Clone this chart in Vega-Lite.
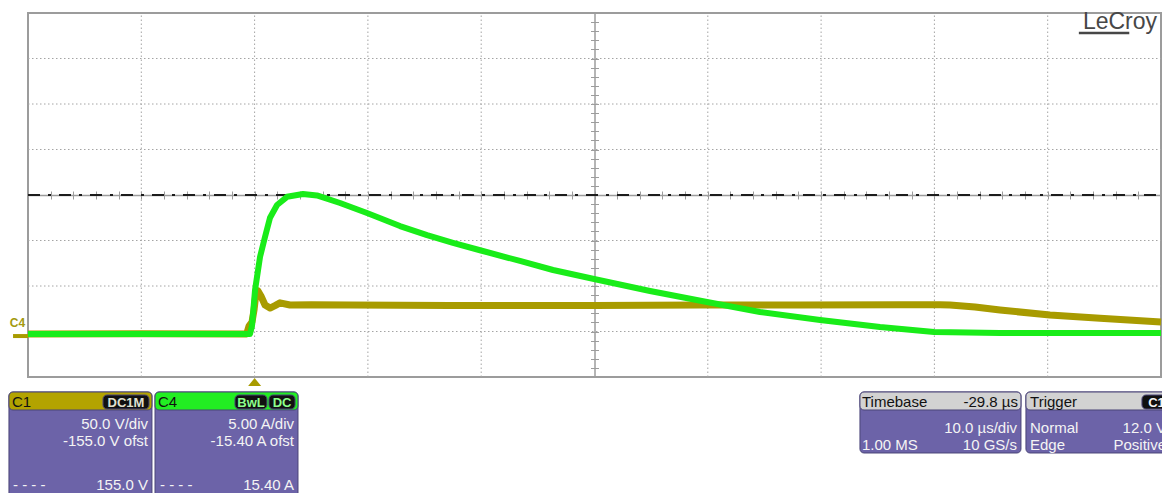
{
  "$schema": "https://vega.github.io/schema/vega-lite/v6.json",
  "width": 1133,
  "height": 364,
  "autosize": {"type": "none"},
  "padding": {"left": 28, "top": 13, "right": 1, "bottom": 116},
  "background": "white",
  "config": {
    "view": {"stroke": "#9c9c9c", "strokeWidth": 2},
    "font": "Liberation Sans",
    "text": {"font": "Liberation Sans"}
  },
  "datasets": {
    "c1": [
      {"t": -20, "v": 2.3}, {"t": -10, "v": 2.6}, {"t": -0.7, "v": 2.3}, {"t": -0.49, "v": 11},
      {"t": -0.23, "v": 15.4}, {"t": -0.05, "v": 28.6}, {"t": 0.12, "v": 47.3}, {"t": 0.3, "v": 49.5},
      {"t": 0.56, "v": 44}, {"t": 0.92, "v": 34.1}, {"t": 1.36, "v": 30.8}, {"t": 1.8, "v": 33.5},
      {"t": 2.24, "v": 36.5}, {"t": 3.12, "v": 34.1}, {"t": 5, "v": 34.5}, {"t": 8.42, "v": 34},
      {"t": 17.25, "v": 33.5}, {"t": 29.96, "v": 33.5}, {"t": 39.31, "v": 34}, {"t": 48.14, "v": 34.2},
      {"t": 56.97, "v": 34.5}, {"t": 60.5, "v": 34.3}, {"t": 61.38, "v": 34.1}, {"t": 63.59, "v": 31.9},
      {"t": 65.79, "v": 28.6}, {"t": 70.2, "v": 23.1}, {"t": 74.62, "v": 19.5}, {"t": 80, "v": 15.4}
    ],
    "c4": [
      {"t": -20, "i": 0.13}, {"t": -0.41, "i": 0.13}, {"t": -0.23, "i": 1.0}, {"t": 0.04, "i": 4.96},
      {"t": 0.48, "i": 8.6}, {"t": 0.92, "i": 10.8}, {"t": 1.36, "i": 12.9}, {"t": 1.98, "i": 14.3},
      {"t": 2.86, "i": 15.2}, {"t": 4.27, "i": 15.51}, {"t": 5.5, "i": 15.35}, {"t": 7.54, "i": 14.52},
      {"t": 9.92, "i": 13.42}, {"t": 12.83, "i": 11.99}, {"t": 15.22, "i": 11.0}, {"t": 17.51, "i": 10.15},
      {"t": 19.98, "i": 9.3}, {"t": 23.42, "i": 8.15}, {"t": 26.34, "i": 7.16}, {"t": 29.96, "i": 6.17},
      {"t": 34.9, "i": 4.85}, {"t": 39.93, "i": 3.64}, {"t": 44.61, "i": 2.54}, {"t": 49.91, "i": 1.66},
      {"t": 55.2, "i": 0.89}, {"t": 59.97, "i": 0.35}, {"t": 65.79, "i": 0.24}, {"t": 80, "i": 0.24}
    ],
    "gridT": [{"t": -10}, {"t": 0}, {"t": 10}, {"t": 20}, {"t": 40}, {"t": 50}, {"t": 60}, {"t": 70}],
    "gridD": [{"d": -3}, {"d": -2}, {"d": -1}, {"d": 1}, {"d": 2}, {"d": 3}],
    "panels": [
      {"kind": "body", "x1": -0.168, "x2": 1.094, "y1": -4.33, "y2": -6.75},
      {"kind": "c1", "x1": -0.168, "x2": 1.094, "y1": -4.33, "y2": -4.725},
      {"kind": "badge", "x1": 0.662, "x2": 1.068, "y1": -4.396, "y2": -4.703},
      {"kind": "body", "x1": 1.121, "x2": 2.383, "y1": -4.33, "y2": -6.75},
      {"kind": "c4", "x1": 1.121, "x2": 2.383, "y1": -4.33, "y2": -4.725},
      {"kind": "badge", "x1": 1.827, "x2": 2.109, "y1": -4.396, "y2": -4.703},
      {"kind": "badge", "x1": 2.127, "x2": 2.357, "y1": -4.396, "y2": -4.703},
      {"kind": "body", "x1": 7.343, "x2": 8.764, "y1": -4.33, "y2": -5.67},
      {"kind": "info", "x1": 7.343, "x2": 8.764, "y1": -4.33, "y2": -4.725},
      {"kind": "body", "x1": 8.808, "x2": 10.2, "y1": -4.33, "y2": -5.67},
      {"kind": "info", "x1": 8.808, "x2": 10.2, "y1": -4.33, "y2": -4.725},
      {"kind": "badge", "x1": 9.832, "x2": 10.1, "y1": -4.396, "y2": -4.703}
    ],
    "texts": [
      {"label": "C1", "x": -0.141, "y": -4.67, "pos": "l", "tone": "dark"},
      {"label": "C4", "x": 1.147, "y": -4.67, "pos": "l", "tone": "dark"},
      {"label": "Timebase", "x": 7.361, "y": -4.67, "pos": "l", "tone": "dark"},
      {"label": "-29.8 µs", "x": 8.738, "y": -4.67, "pos": "r", "tone": "dark"},
      {"label": "Trigger", "x": 8.844, "y": -4.67, "pos": "l", "tone": "dark"},
      {"label": "DC1M", "x": 0.865, "y": -4.65, "pos": "c", "tone": "b1"},
      {"label": "BwL", "x": 1.968, "y": -4.65, "pos": "c", "tone": "b4"},
      {"label": "DC", "x": 2.242, "y": -4.65, "pos": "c", "tone": "b4"},
      {"label": "C1", "x": 9.96, "y": -4.65, "pos": "c", "tone": "light"},
      {"label": "50.0 V/div", "x": 1.059, "y": -5.143, "pos": "r", "tone": "light"},
      {"label": "-155.0 V ofst", "x": 1.059, "y": -5.516, "pos": "r", "tone": "light"},
      {"label": "155.0 V", "x": 1.059, "y": -6.484, "pos": "r", "tone": "light"},
      {"label": "- - - -", "x": -0.132, "y": -6.484, "pos": "l", "tone": "light"},
      {"label": "5.00 A/div", "x": 2.348, "y": -5.143, "pos": "r", "tone": "light"},
      {"label": "-15.40 A ofst", "x": 2.348, "y": -5.516, "pos": "r", "tone": "light"},
      {"label": "15.40 A", "x": 2.348, "y": -6.484, "pos": "r", "tone": "light"},
      {"label": "- - - -", "x": 1.165, "y": -6.484, "pos": "l", "tone": "light"},
      {"label": "10.0 µs/div", "x": 8.729, "y": -5.231, "pos": "r", "tone": "light"},
      {"label": "1.00 MS", "x": 7.361, "y": -5.604, "pos": "l", "tone": "light"},
      {"label": "10 GS/s", "x": 8.729, "y": -5.604, "pos": "r", "tone": "light"},
      {"label": "Normal", "x": 8.844, "y": -5.231, "pos": "l", "tone": "light"},
      {"label": "12.0 V", "x": 10.044, "y": -5.231, "pos": "r", "tone": "light"},
      {"label": "Edge", "x": 8.844, "y": -5.604, "pos": "l", "tone": "light"},
      {"label": "Positive", "x": 10.044, "y": -5.604, "pos": "r", "tone": "light"}
    ]
  },
  "layer": [
    {
      "data": {"name": "gridT"},
      "mark": {"type": "rule", "stroke": "#a4a4a4", "strokeWidth": 1, "strokeDash": [1.5, 2.5]},
      "encoding": {
        "x": {"field": "t", "type": "quantitative", "scale": {"domain": [-20, 80], "nice": false, "zero": false},
          "axis": {"orient": "top", "offset": -182, "values": [-20,-18,-16,-14,-12,-10,-8,-6,-4,-2,0,2,4,6,8,10,12,14,16,18,20,22,24,26,28,30,32,34,36,38,40,42,44,46,48,50,52,54,56,58,60,62,64,66,68,70,72,74,76,78,80],
            "labels": false, "ticks": true, "tickSize": 4, "tickColor": "#9c9c9c", "domain": false, "grid": false, "title": null}},
        "y": {"datum": -4, "type": "quantitative", "scale": {"domain": [-4, 4], "nice": false, "zero": false},
          "axis": {"orient": "right", "offset": -566.5, "values": [-4,-3.8,-3.6,-3.4,-3.2,-3,-2.8,-2.6,-2.4,-2.2,-2,-1.8,-1.6,-1.4,-1.2,-1,-0.8,-0.6,-0.4,-0.2,0,0.2,0.4,0.6,0.8,1,1.2,1.4,1.6,1.8,2,2.2,2.4,2.6,2.8,3,3.2,3.4,3.6,3.8,4],
            "labels": false, "ticks": true, "tickSize": 4, "tickColor": "#9c9c9c", "domain": false, "grid": false, "title": null}},
        "y2": {"datum": 4}
      }
    },
    {
      "data": {"name": "gridD"},
      "mark": {"type": "rule", "stroke": "#a4a4a4", "strokeWidth": 1, "strokeDash": [1.5, 2.5]},
      "encoding": {
        "y": {"field": "d", "type": "quantitative", "scale": {"domain": [-4, 4], "nice": false, "zero": false},
          "axis": {"orient": "left", "offset": -566.5, "values": [-4,-3.8,-3.6,-3.4,-3.2,-3,-2.8,-2.6,-2.4,-2.2,-2,-1.8,-1.6,-1.4,-1.2,-1,-0.8,-0.6,-0.4,-0.2,0,0.2,0.4,0.6,0.8,1,1.2,1.4,1.6,1.8,2,2.2,2.4,2.6,2.8,3,3.2,3.4,3.6,3.8,4],
            "labels": false, "ticks": true, "tickSize": 4, "tickColor": "#9c9c9c", "domain": true, "domainColor": "#9c9c9c", "domainWidth": 1.5, "grid": false, "title": null}},
        "x": {"datum": -20, "type": "quantitative", "scale": {"domain": [-20, 80], "nice": false, "zero": false},
          "axis": {"orient": "bottom", "offset": -182, "values": [-20,-18,-16,-14,-12,-10,-8,-6,-4,-2,0,2,4,6,8,10,12,14,16,18,20,22,24,26,28,30,32,34,36,38,40,42,44,46,48,50,52,54,56,58,60,62,64,66,68,70,72,74,76,78,80],
            "labels": false, "ticks": true, "tickSize": 4, "tickColor": "#9c9c9c", "domain": true, "domainColor": "#9c9c9c", "domainWidth": 1.5, "grid": false, "title": null}},
        "x2": {"datum": 80}
      }
    },
    {
      "data": {"values": [{"d": 0}]},
      "mark": {"type": "rule", "stroke": "#1c1c1c", "strokeWidth": 2, "strokeDash": [12, 8, 3, 8]},
      "encoding": {
        "y": {"field": "d", "type": "quantitative", "scale": {"domain": [-4, 4], "nice": false, "zero": false}, "axis": null},
        "x": {"datum": -20, "type": "quantitative", "scale": {"domain": [-20, 80], "nice": false, "zero": false}, "axis": null},
        "x2": {"datum": 80}
      }
    },
    {
      "data": {"name": "c1"},
      "mark": {"type": "line", "stroke": "#a89b00", "strokeWidth": 7, "strokeJoin": "round"},
      "encoding": {
        "x": {"field": "t", "type": "quantitative", "scale": {"domain": [-20, 80], "nice": false, "zero": false}, "axis": null},
        "y": {"field": "v", "type": "quantitative", "scale": {"domain": [-45, 355], "nice": false, "zero": false}, "axis": null}
      }
    },
    {
      "data": {"name": "c4"},
      "mark": {"type": "line", "stroke": "#19ec19", "strokeWidth": 6, "strokeJoin": "round"},
      "encoding": {
        "x": {"field": "t", "type": "quantitative", "scale": {"domain": [-20, 80], "nice": false, "zero": false}, "axis": null},
        "y": {"field": "i", "type": "quantitative", "scale": {"domain": [-4.6, 35.4], "nice": false, "zero": false}, "axis": null}
      }
    },
    {
      "data": {"values": [{"t": -21.32, "t2": -20, "v": 0}]},
      "mark": {"type": "rule", "stroke": "#a89b00", "strokeWidth": 4, "clip": false},
      "encoding": {
        "x": {"field": "t", "type": "quantitative", "scale": {"domain": [-20, 80], "nice": false, "zero": false}, "axis": null},
        "x2": {"field": "t2"},
        "y": {"field": "v", "type": "quantitative", "scale": {"domain": [-45, 355], "nice": false, "zero": false}, "axis": null}
      }
    },
    {
      "data": {"values": [{"label": "C4", "t": -20.93, "i": 0}]},
      "mark": {"type": "text", "fontSize": 12, "fontWeight": "bold", "color": "#a39a10", "align": "center", "baseline": "bottom", "dy": -5},
      "encoding": {
        "x": {"field": "t", "type": "quantitative", "scale": {"domain": [-20, 80], "nice": false, "zero": false}, "axis": null},
        "y": {"field": "i", "type": "quantitative", "scale": {"domain": [-4.6, 35.4], "nice": false, "zero": false}, "axis": null},
        "text": {"field": "label"}
      }
    },
    {
      "data": {"values": [{"t": 0, "d": -4.11}]},
      "mark": {"type": "point", "shape": "M-1,0.6L0,-0.6L1,0.6Z", "size": 169, "filled": true, "color": "#a89b00", "opacity": 1},
      "encoding": {
        "x": {"field": "t", "type": "quantitative", "scale": {"domain": [-20, 80], "nice": false, "zero": false}, "axis": null},
        "y": {"field": "d", "type": "quantitative", "scale": {"domain": [-4, 4], "nice": false, "zero": false}, "axis": null}
      }
    },
    {
      "data": {"values": [{"label": "LeCroy", "t": 79.65, "d": 3.648}]},
      "mark": {"type": "text", "fontSize": 23, "color": "#474747", "align": "right", "baseline": "alphabetic"},
      "encoding": {
        "x": {"field": "t", "type": "quantitative", "scale": {"domain": [-20, 80], "nice": false, "zero": false}, "axis": null},
        "y": {"field": "d", "type": "quantitative", "scale": {"domain": [-4, 4], "nice": false, "zero": false}, "axis": null},
        "text": {"field": "label"}
      }
    },
    {
      "data": {"values": [{"t": 72.75, "t2": 77.2, "d": 3.56}]},
      "mark": {"type": "rule", "stroke": "#474747", "strokeWidth": 2.5},
      "encoding": {
        "x": {"field": "t", "type": "quantitative", "scale": {"domain": [-20, 80], "nice": false, "zero": false}, "axis": null},
        "x2": {"field": "t2"},
        "y": {"field": "d", "type": "quantitative", "scale": {"domain": [-4, 4], "nice": false, "zero": false}, "axis": null}
      }
    },
    {
      "data": {"name": "panels"},
      "mark": {"type": "rect", "cornerRadius": 4, "stroke": "#4a4478", "strokeWidth": 1, "clip": false},
      "encoding": {
        "x": {"field": "x1", "type": "quantitative", "scale": {"domain": [0, 10], "nice": false, "zero": false}, "axis": null},
        "x2": {"field": "x2"},
        "y": {"field": "y1", "type": "quantitative", "scale": {"domain": [-4, 4], "nice": false, "zero": false}, "axis": null},
        "y2": {"field": "y2"},
        "fill": {"field": "kind", "type": "nominal", "legend": null,
          "scale": {"domain": ["body", "c1", "c4", "info", "badge"], "range": ["#6c63a8", "#b3a300", "#22ee22", "#d2d2d2", "#101010"]}}
      }
    },
    {
      "data": {"name": "texts"},
      "transform": [{"filter": "datum.pos == 'l'"}],
      "mark": {"type": "text", "fontSize": 15, "align": "left", "baseline": "alphabetic"},
      "encoding": {
        "x": {"field": "x", "type": "quantitative", "scale": {"domain": [0, 10], "nice": false, "zero": false}, "axis": null},
        "y": {"field": "y", "type": "quantitative", "scale": {"domain": [-4, 4], "nice": false, "zero": false}, "axis": null},
        "text": {"field": "label"},
        "color": {"field": "tone", "type": "nominal", "legend": null,
          "scale": {"domain": ["dark", "light", "b1", "b4"], "range": ["#111111", "#f4f4f4", "#e0e0d0", "#8cff8c"]}}
      }
    },
    {
      "data": {"name": "texts"},
      "transform": [{"filter": "datum.pos == 'r'"}],
      "mark": {"type": "text", "fontSize": 15, "align": "right", "baseline": "alphabetic"},
      "encoding": {
        "x": {"field": "x", "type": "quantitative", "scale": {"domain": [0, 10], "nice": false, "zero": false}, "axis": null},
        "y": {"field": "y", "type": "quantitative", "scale": {"domain": [-4, 4], "nice": false, "zero": false}, "axis": null},
        "text": {"field": "label"},
        "color": {"field": "tone", "type": "nominal", "legend": null,
          "scale": {"domain": ["dark", "light", "b1", "b4"], "range": ["#111111", "#f4f4f4", "#e0e0d0", "#8cff8c"]}}
      }
    },
    {
      "data": {"name": "texts"},
      "transform": [{"filter": "datum.pos == 'c'"}],
      "mark": {"type": "text", "fontSize": 13, "fontWeight": "bold", "align": "center", "baseline": "alphabetic"},
      "encoding": {
        "x": {"field": "x", "type": "quantitative", "scale": {"domain": [0, 10], "nice": false, "zero": false}, "axis": null},
        "y": {"field": "y", "type": "quantitative", "scale": {"domain": [-4, 4], "nice": false, "zero": false}, "axis": null},
        "text": {"field": "label"},
        "color": {"field": "tone", "type": "nominal", "legend": null,
          "scale": {"domain": ["dark", "light", "b1", "b4"], "range": ["#111111", "#f4f4f4", "#e0e0d0", "#8cff8c"]}}
      }
    }
  ],
  "resolve": {
    "scale": {"x": "independent", "y": "independent", "color": "independent", "fill": "independent"},
    "axis": {"x": "independent", "y": "independent"}
  }
}
